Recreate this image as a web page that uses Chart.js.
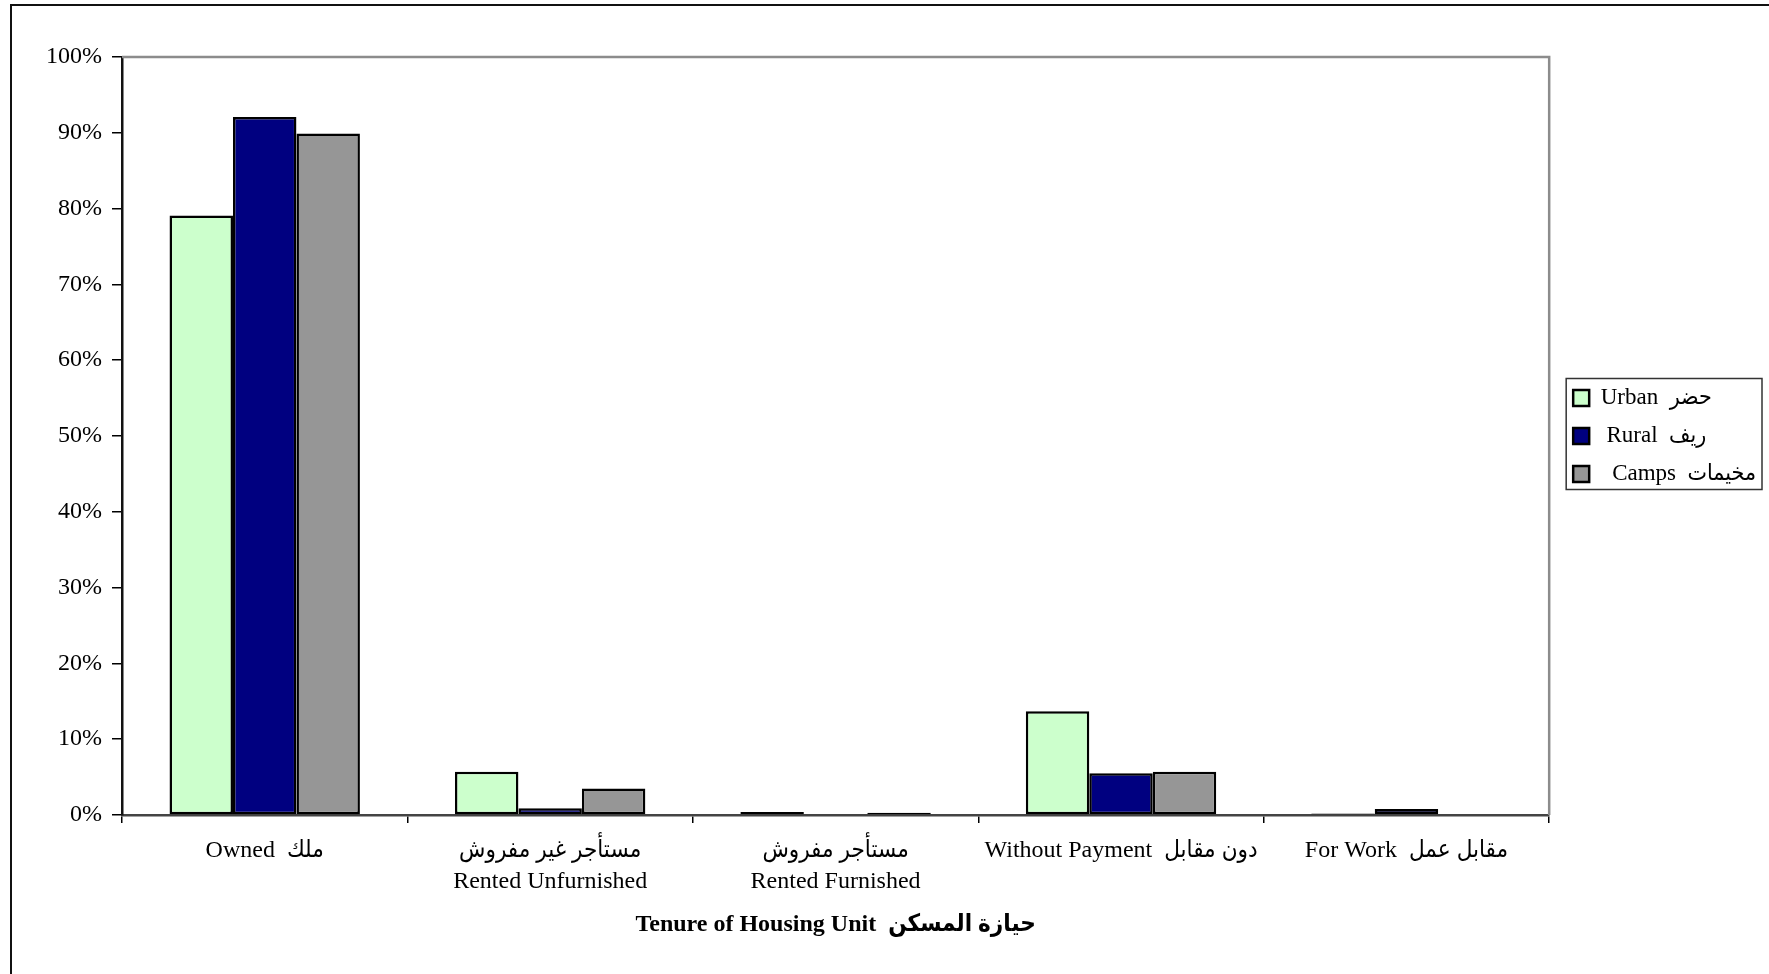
<!DOCTYPE html>
<html>
<head>
<meta charset="utf-8">
<script src="https://cdn.jsdelivr.net/npm/chart.js@4.4.1/dist/chart.umd.min.js"></script>
<style>
  body { margin: 0; background: #fff; overflow: hidden; }
  #wrap { position: relative; width: 1769px; height: 974px; }
  #frame {
    position: absolute; left: 10px; top: 4px; right: -20px; bottom: -20px;
    border-top: 2px solid #111; border-left: 2px solid #111;
  }
  canvas { position: absolute; left: 0; top: 0; }
</style>
</head>
<body>
<div id="wrap">
  <div id="frame"></div>
  <canvas id="tenureChart" width="1769" height="974"></canvas>
</div>
<script>
// categories (tenure of housing unit)
const categories = [
  "Owned  ملك",
  ["مستأجر غير مفروش", "Rented Unfurnished"],
  ["مستأجر مفروش", "Rented Furnished"],
  "Without Payment  دون مقابل",
  "For Work  مقابل عمل"
];

// percentages
const urban = [79.1, 5.7, 0.4, 13.7, 0.2];
const rural = [92.1, 0.9, 0.1, 5.5, 0.8];
const camps = [89.9, 3.5, 0.3, 5.7, 0.1];

const seriesNames = ["Urban  حضر", " Rural  ريف", "  Camps  مخيمات"];
const axisTitle = "Tenure of Housing Unit  حيازة المسكن";

const FONT = "'Liberation Serif', 'DejaVu Sans Condensed', 'DejaVu Sans', serif";

// gray frame on top/right of the plot + box around the legend
const extras = {
  id: "extras",
  afterLayout(chart) {
    // push legend items a bit away from the plot
    chart.legend.left += 9;
    chart.legend.right += 9;
  },
  beforeDatasetsDraw(chart) {
    const { ctx, chartArea: a } = chart;
    ctx.save();
    ctx.strokeStyle = "#8c8c8c";
    ctx.lineWidth = 2.5;
    ctx.beginPath();
    ctx.moveTo(a.left, a.top);
    ctx.lineTo(a.right, a.top);
    ctx.lineTo(a.right, a.bottom);
    ctx.stroke();
    ctx.restore();
  },
  afterDraw(chart) {
    const boxes = chart.legend.legendHitBoxes;
    if (!boxes || !boxes.length) return;
    const ctx = chart.ctx;
    let l = Infinity, r = -Infinity, t = Infinity, b = -Infinity;
    boxes.forEach(h => {
      l = Math.min(l, h.left);
      r = Math.max(r, h.left + h.width);
      t = Math.min(t, h.top);
      b = Math.max(b, h.top + h.height);
    });
    ctx.save();
    ctx.strokeStyle = "#333";
    ctx.lineWidth = 1.5;
    ctx.strokeRect(l - 7, t - 8, r - l + 13, b - t + 12);
    ctx.restore();
  }
};

new Chart(document.getElementById("tenureChart"), {
  type: "bar",
  data: {
    labels: categories,
    datasets: [
      { label: seriesNames[0], data: urban, backgroundColor: "#ccffcc" },
      { label: seriesNames[1], data: rural, backgroundColor: "#000080" },
      { label: seriesNames[2], data: camps, backgroundColor: "#969696" }
    ]
  },
  options: {
    responsive: false,
    animation: false,
    layout: { padding: { left: 10, top: 57, right: 12, bottom: 0 } },
    datasets: {
      bar: {
        borderColor: "#000",
        borderWidth: 2.5,
        borderSkipped: false,
        categoryPercentage: 0.667,
        barPercentage: 1
      }
    },
    plugins: {
      legend: {
        position: "right",
        fullSize: false,
        labels: {
          font: { family: FONT, size: 23 },
          color: "#000",
          boxWidth: 16,
          boxHeight: 16,
          padding: 15
        }
      },
      tooltip: { enabled: false }
    },
    scales: {
      x: {
        grid: {
          drawOnChartArea: false,
          drawTicks: true,
          tickLength: 8,
          offset: true,
          color: "#000",
          lineWidth: 1.5
        },
        border: { display: true, color: "#444", width: 2.5 },
        ticks: {
          font: { family: FONT, size: 24, lineHeight: 1.3 },
          color: "#000",
          padding: 12,
          maxRotation: 0,
          autoSkip: false
        },
        title: {
          display: true,
          text: axisTitle,
          font: { family: FONT, size: 24, weight: "bold" },
          color: "#000",
          padding: { top: 0, bottom: 35 }
        },
        afterFit(scale) { scale.height = 159; }
      },
      y: {
        min: 0,
        max: 100,
        grid: {
          drawOnChartArea: false,
          drawTicks: true,
          tickLength: 10,
          color: "#000",
          lineWidth: 1.5
        },
        border: { display: true, color: "#111", width: 2.5 },
        ticks: {
          stepSize: 10,
          font: { family: FONT, size: 24 },
          color: "#000",
          padding: 10,
          callback: v => v + "%"
        },
        afterFit(scale) { scale.width = 112; }
      }
    }
  },
  plugins: [extras]
});
</script>
</body>
</html>
